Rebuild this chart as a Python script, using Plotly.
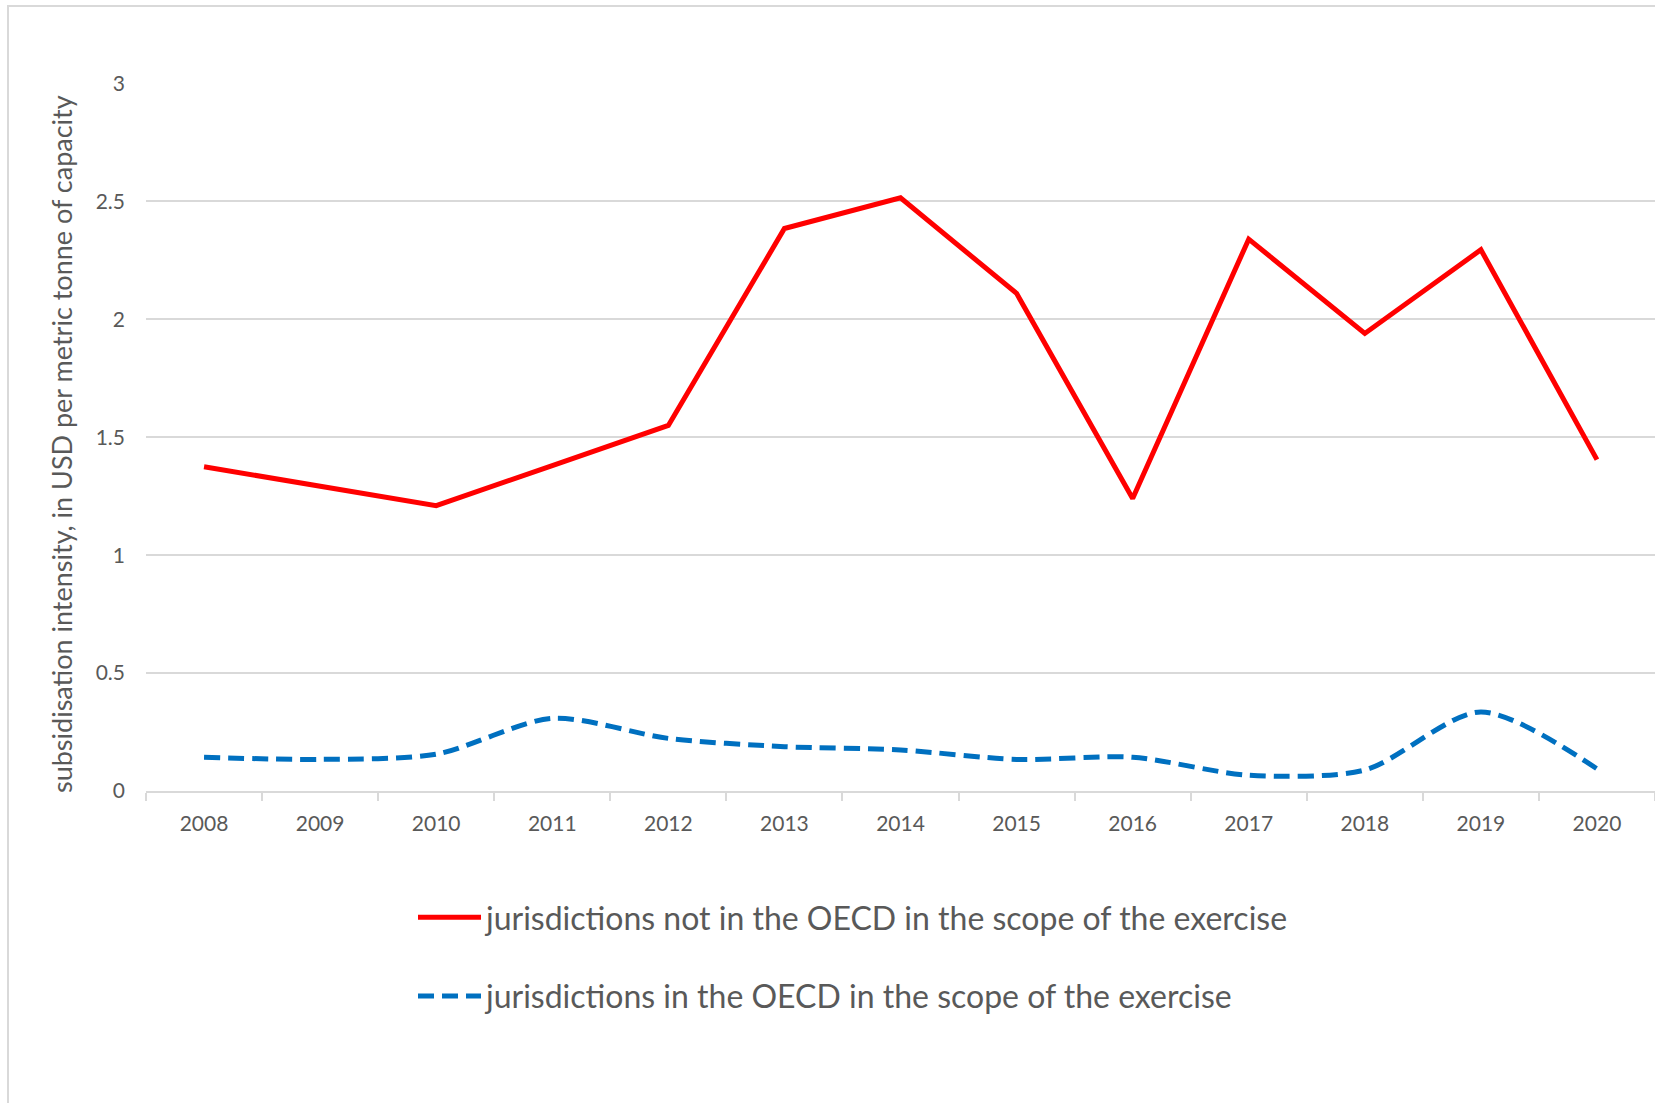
import plotly.graph_objects as go

years = ["2008", "2009", "2010", "2011", "2012", "2013", "2014",
         "2015", "2016", "2017", "2018", "2019", "2020"]
non_oecd = [1.375, 1.29, 1.21, 1.38, 1.55, 2.385, 2.515,
            2.11, 1.24, 2.34, 1.94, 2.295, 1.405]
oecd = [0.143, 0.134, 0.156, 0.308, 0.223, 0.188, 0.174,
        0.134, 0.143, 0.067, 0.089, 0.335, 0.094]

name_non = "jurisdictions not in the OECD in the scope of the exercise"
name_oecd = "jurisdictions in the OECD in the scope of the exercise"
y_title = "subsidisation intensity, in USD per metric tonne of capacity"

W, H = 1655, 1103
FONT = "Lato"
GRAY = "#595959"
GRID = "#d9d9d9"

fig = go.Figure()
fig.add_trace(go.Scatter(
    x=years, y=non_oecd, mode="lines", name=name_non,
    line=dict(color="#FF0000", width=5), legendgroup="a"))
fig.add_trace(go.Scatter(
    x=years, y=oecd, mode="lines", name=name_oecd,
    line=dict(color="#0070C0", width=5, dash="16px,8px", shape="spline", smoothing=0.8),
    legendgroup="b"))

ml, mt, mb, mr = 146, 83, 312, 0
pw = W - ml - mr
ph = H - mt - mb
fig.update_layout(
    width=W, height=H,
    margin=dict(l=ml, r=mr, t=mt, b=mb, autoexpand=False),
    paper_bgcolor="white", plot_bgcolor="white",
    font=dict(family=FONT, color=GRAY),
    showlegend=True,
    legend=dict(
        xref="container", yref="container",
        x=413 / W, y=1 - 890 / H, xanchor="left", yanchor="top",
        font=dict(size=32, color=GRAY, family=FONT),
        tracegroupgap=34, itemwidth=63,
        bgcolor="rgba(0,0,0,0)"),
    xaxis=dict(
        type="category", range=[-0.5, 12.5],
        showline=True, linecolor=GRID, linewidth=2,
        ticks="outside", tickson="boundaries", ticklen=8, tickcolor=GRID, tickwidth=2,
        showgrid=False, tickfont=dict(size=21, color=GRAY, family=FONT),
        tickangle=0, ticklabelstandoff=13),
    yaxis=dict(
        range=[0, 3.002], tickvals=[0, 0.5, 1, 1.5, 2, 2.5, 3],
        ticktext=["0", "0.5", "1", "1.5", "2", "2.5", "3"],
        showgrid=True, gridcolor=GRID, gridwidth=2, zeroline=False,
        showline=False, ticks="", tickfont=dict(size=21, color=GRAY, family=FONT),
        ticklabelstandoff=20),
    annotations=[dict(
        text=y_title, textangle=-90, showarrow=False,
        xref="paper", yref="paper", x=(61 - ml) / pw, y=(790 - 443) / ph,
        xanchor="center", yanchor="middle",
        font=dict(size=27, color=GRAY, family=FONT))],
)

# outer chart frame (light gray border)
fig.add_shape(type="rect", xref="paper", yref="paper",
              x0=(8 - ml) / pw, x1=(W + 20 - ml) / pw,
              y0=-(H + 20 - (H - mb)) / ph, y1=1 + (mt - 6) / ph,
              line=dict(color=GRID, width=2), fillcolor="rgba(0,0,0,0)", layer="below")

fig.write_html("out.html")
